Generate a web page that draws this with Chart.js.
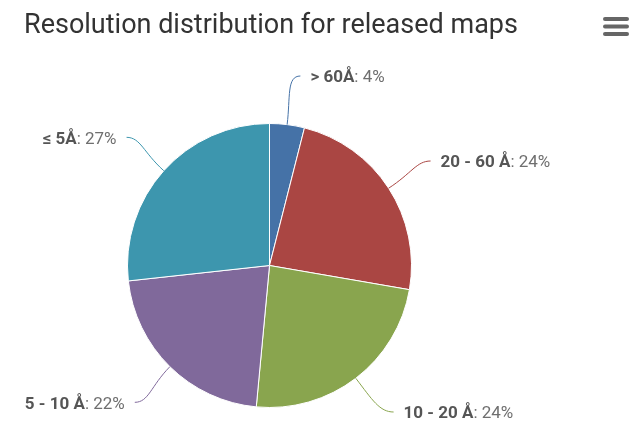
<!DOCTYPE html>
<html>
<head>
<meta charset="utf-8">
<title>Resolution distribution for released maps</title>
<script src="https://cdn.jsdelivr.net/npm/chart.js@4/dist/chart.umd.min.js"></script>
<style>
  html, body { margin: 0; padding: 0; background: #fff; }
  #wrap { width: 639px; height: 422px; position: relative; }
</style>
</head>
<body>
<div id="wrap"><canvas id="resChart" width="639" height="422"></canvas></div>
<script>
// resolution bins and their share of released maps (percent)
const binLabels = ['> 60Å', '20 - 60 Å', '10 - 20 Å', '5 - 10 Å', '≤ 5Å'];
const binShares = [4, 24, 24, 22, 27];
const binColors = ['#4572A7', '#AA4643', '#89A54E', '#80699B', '#3D96AE'];

const chartTitle = 'Resolution distribution for released maps';
const FONT = 'Roboto, "Liberation Sans", Arial, sans-serif';

// outside labels with soft connectors, placed on a ring around the pie
const pieLabels = {
  id: 'pieLabels',
  afterDatasetsDraw(chart, args, opts) {
    const ctx = chart.ctx;
    const meta = chart.getDatasetMeta(0);
    const data = chart.data.datasets[0].data;
    const dist = opts.distance;
    const top = opts.minY, bottom = opts.maxY;

    meta.data.forEach((arc, i) => {
      const p = arc.getProps(['x', 'y', 'startAngle', 'endAngle', 'outerRadius'], true);
      const mid = (p.startAngle + p.endAngle) / 2;
      const cos = Math.cos(mid), sin = Math.sin(mid);
      const R = p.outerRadius + dist;
      const side = cos >= 0 ? 1 : -1;

      let ly = p.y + R * sin;
      let lx = p.x + R * cos;
      const clamped = Math.min(Math.max(ly, top), bottom);
      if (clamped !== ly) {
        ly = clamped;
        const dy = ly - p.y;
        lx = p.x + side * Math.sqrt(Math.max(R * R - dy * dy, 0));
      }

      // connector: out of the slice edge, bending to horizontal at the label
      const ex = p.x + p.outerRadius * cos, ey = p.y + p.outerRadius * sin;
      const c1x = p.x + (p.outerRadius + dist * 0.55) * cos;
      const c1y = p.y + (p.outerRadius + dist * 0.55) * sin;
      ctx.save();
      ctx.strokeStyle = binColors[i];
      ctx.lineWidth = 1;
      ctx.beginPath();
      ctx.moveTo(ex, ey);
      ctx.bezierCurveTo(c1x, c1y, lx - side * 14, ly, lx, ly);
      ctx.stroke();

      const name = chart.data.labels[i];
      const rest = ': ' + data[i] + '%';
      const boldFont = 'bold 17px ' + FONT;
      const normFont = '17px ' + FONT;
      ctx.font = boldFont;
      const wName = ctx.measureText(name).width;
      ctx.font = normFont;
      const wRest = ctx.measureText(rest).width;
      const tx = side > 0 ? lx + opts.padding : lx - opts.padding - wName - wRest;
      const ty = ly + 2;
      ctx.textBaseline = 'middle';
      ctx.textAlign = 'left';
      ctx.font = boldFont;
      ctx.fillStyle = '#555';
      ctx.fillText(name, tx, ty);
      ctx.font = normFont;
      ctx.fillStyle = '#6f6f6f';
      ctx.fillText(rest, tx + wName, ty);
      ctx.restore();
    });
  }
};

// title text and the context-menu glyph in the top right corner
const chartFrame = {
  id: 'chartFrame',
  afterDraw(chart) {
    const ctx = chart.ctx;
    ctx.save();
    ctx.font = '27px ' + FONT;
    ctx.fillStyle = '#333';
    ctx.textAlign = 'left';
    ctx.textBaseline = 'alphabetic';
    ctx.fillText(chartTitle, 24, 33);

    ctx.fillStyle = '#666';
    [19, 26.5, 34].forEach(y => {
      ctx.beginPath();
      ctx.roundRect(603, y - 2, 26, 4, 2);
      ctx.fill();
    });
    ctx.restore();
  }
};

new Chart(document.getElementById('resChart'), {
  type: 'pie',
  data: {
    labels: binLabels,
    datasets: [{
      data: binShares,
      backgroundColor: binColors,
      borderColor: '#fff',
      borderWidth: 1
    }]
  },
  options: {
    responsive: false,
    animation: false,
    layout: { padding: { left: 127, top: 123, right: 227, bottom: 14 } },
    plugins: {
      legend: { display: false },
      tooltip: { enabled: false },
      title: { display: false },
      pieLabels: { distance: 50, padding: 10, minY: 76, maxY: 412 }
    }
  },
  plugins: [pieLabels, chartFrame]
});
</script>
</body>
</html>
